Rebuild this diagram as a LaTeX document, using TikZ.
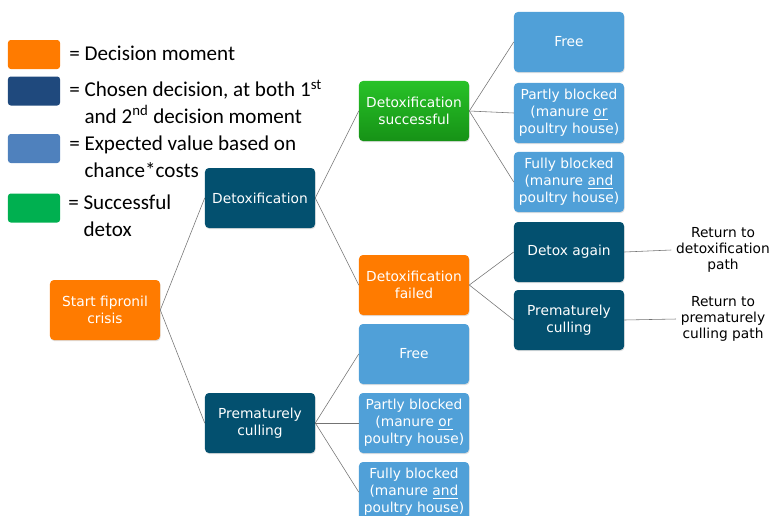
\documentclass[tikz,border=0pt]{standalone}
\usepackage{fontspec}
\setmainfont{DejaVu Sans}
\newfontfamily\legendfont{Carlito}
\usetikzlibrary{shadows}
\definecolor{decisionorange}{RGB}{255,123,0}
\definecolor{chosenblue}{RGB}{3,80,111}
\definecolor{valueblue}{RGB}{80,160,216}
\definecolor{detoxgreenA}{RGB}{40,194,40}
\definecolor{detoxgreenB}{RGB}{22,146,22}
\definecolor{legendnavy}{RGB}{31,73,125}
\definecolor{legendblue}{RGB}{79,129,189}
\definecolor{legendgreen}{RGB}{0,176,80}
\begin{document}
\begin{tikzpicture}[x=0.025cm, y=-0.025cm, line join=round, line cap=round,
	box/.style={rounded corners=2.8pt, minimum width=2.75cm, minimum height=1.5cm, align=center, text=white, font=\fontsize{9.8}{12.1}\selectfont, inner sep=1pt, drop shadow={opacity=0.25, shadow xshift=0.4pt, shadow yshift=-0.8pt}},
	decision/.style={box, fill=decisionorange},
	chosen/.style={box, fill=chosenblue},
	value/.style={box, fill=valueblue},
	success/.style={box, top color=detoxgreenA, bottom color=detoxgreenB},
	branch/.style={black!55, line width=0.4pt},
	key/.style={rounded corners=2pt, minimum width=1.3cm, minimum height=0.725cm, inner sep=0pt},
	keytext/.style={anchor=west, align=left, font=\legendfont\fontsize{15}{19}\selectfont, inner sep=0pt},
	returntext/.style={align=center, font=\fontsize{9.8}{11.5}\selectfont}]
	\useasboundingbox (0,0) rectangle (773,515);
	\node[key, fill=decisionorange] (keydecision) at (34,54.5) {};
	\node[key, fill=legendnavy] (keychosen) at (34,91) {};
	\node[key, fill=legendblue] (keyvalue) at (34,148.5) {};
	\node[key, fill=legendgreen] (keysuccess) at (34,208) {};
	\node[keytext] (txtdecision) at (69,53) {= Decision moment};
	\node[keytext] (txtchosen) at (69,101.5) {= Chosen decision, at both 1\textsuperscript{st}\\\hphantom{=\ }and 2\textsuperscript{nd} decision moment};
	\node[keytext] (txtvalue) at (69,156.5) {= Expected value based on\\\hphantom{=\ }chance*costs};
	\node[keytext] (txtsuccess) at (68,216) {= Successful\\\hphantom{=\ }detox};
	\node[decision] (start) at (105,310) {Start fipronil\\crisis};
	\node[chosen] (detox) at (260,198) {Detoxification};
	\node[chosen] (cull) at (260,423) {Prematurely\\culling};
	\node[success] (success) at (414,111) {Detoxification\\successful};
	\node[decision] (failed) at (414,285) {Detoxification\\failed};
	\node[value] (freeA) at (569,42) {Free};
	\node[value] (partlyA) at (569,113) {Partly blocked\\(manure \underline{or}\\poultry house)};
	\node[value] (fullyA) at (569,182) {Fully blocked\\(manure \underline{and}\\poultry house)};
	\node[chosen] (again) at (569,252) {Detox again};
	\node[chosen] (cullagain) at (569,320) {Prematurely\\culling};
	\node[value] (freeB) at (414,354) {Free};
	\node[value] (partlyB) at (414,423) {Partly blocked\\(manure \underline{or}\\poultry house)};
	\node[value] (fullyB) at (414,492) {Fully blocked\\(manure \underline{and}\\poultry house)};
	\node[returntext] (backdetox) at (723,250) {Return to\\detoxification\\path};
	\node[returntext] (backcull) at (723,319) {Return to\\prematurely\\culling path};
	\draw[branch] (start.east) -- (detox.west);
	\draw[branch] (start.east) -- (cull.west);
	\draw[branch] (detox.east) -- (success.west);
	\draw[branch] (detox.east) -- (failed.west);
	\draw[branch] (success.east) -- (freeA.west);
	\draw[branch] (success.east) -- (partlyA.west);
	\draw[branch] (success.east) -- (fullyA.west);
	\draw[branch] (failed.east) -- (again.west);
	\draw[branch] (failed.east) -- (cullagain.west);
	\draw[branch] (cull.east) -- (freeB.west);
	\draw[branch] (cull.east) -- (partlyB.west);
	\draw[branch] (cull.east) -- (fullyB.west);
	\draw[branch] (again.east) -- (backdetox.west);
	\draw[branch] (cullagain.east) -- (backcull.west);
\end{tikzpicture}
\end{document}
